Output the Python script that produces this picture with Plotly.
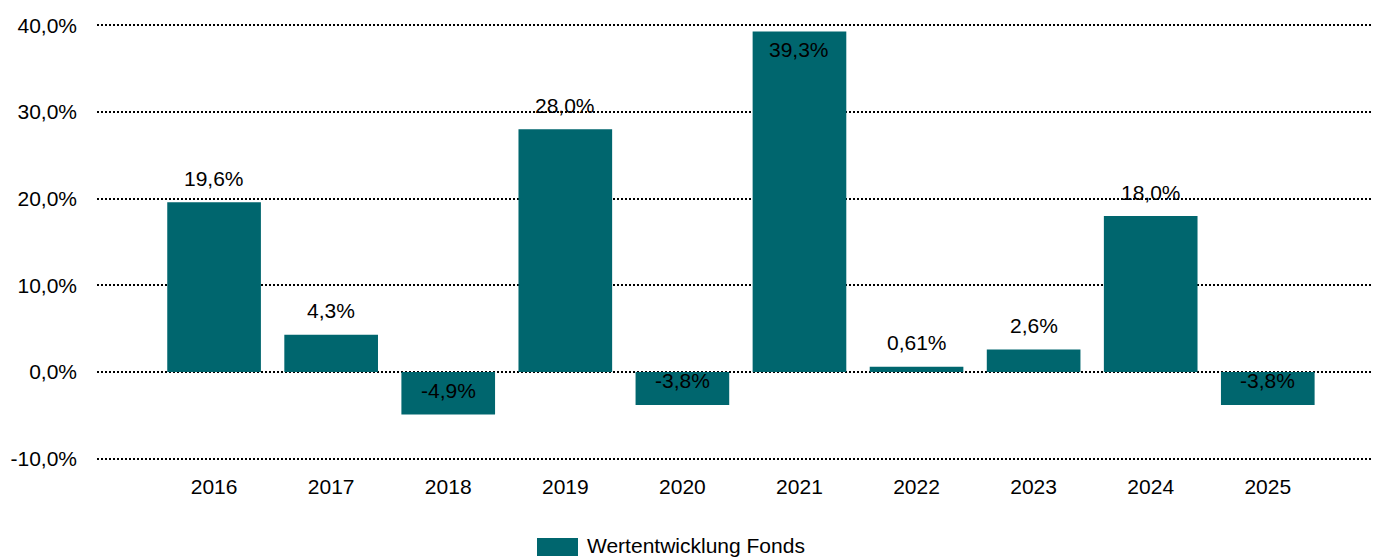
import plotly.graph_objects as go

years = ["2016", "2017", "2018", "2019", "2020", "2021", "2022", "2023", "2024", "2025"]
values = [19.6, 4.3, -4.9, 28.0, -3.8, 39.3, 0.61, 2.6, 18.0, -3.8]
labels = ["19,6%", "4,3%", "-4,9%", "28,0%", "-3,8%", "39,3%", "0,61%", "2,6%", "18,0%", "-3,8%"]
y_ticks = [-10, 0, 10, 20, 30, 40]
y_tick_text = ["-10,0%", "0,0%", "10,0%", "20,0%", "30,0%", "40,0%"]
series_name = "Wertentwicklung Fonds"

COLOR = "#00666E"
FONT = "Liberation Sans, Arial, sans-serif"
FS = 21

OFF = 8  # page body margin
W, H = 1379 - OFF, 557 - OFF
ML, MR, MT, MB = 97 - OFF, 0, 13, 94
plot_w = W - ML - MR
plot_h = H - MT - MB


def px_to_paper_x(px):
    return (px - OFF - ML) / plot_w


def px_to_paper_y(py):
    return (H - MB - (py - OFF)) / plot_h


x_idx = list(range(len(years)))

fig = go.Figure()
fig.add_trace(go.Bar(
    x=x_idx, y=values, width=0.8, marker=dict(color=COLOR, line=dict(width=0)),
    name=series_name, showlegend=False, hoverinfo="skip",
))

annotations = []
for i, (v, t) in enumerate(zip(values, labels)):
    shift = 24 if v < 36 else -18
    annotations.append(dict(x=i, y=v, xref="x", yref="y", text=t, showarrow=False,
                            yshift=shift, font=dict(family=FONT, size=FS, color="#000000")))

# custom legend
sw_x0, sw_x1 = px_to_paper_x(537), px_to_paper_x(578)
sw_y0, sw_y1 = px_to_paper_y(556), px_to_paper_y(538)
annotations.append(dict(x=px_to_paper_x(585), y=px_to_paper_y(545), xref="paper", yref="paper",
                        text=series_name, showarrow=False, xanchor="left", yanchor="middle",
                        font=dict(family=FONT, size=FS, color="#000000")))

fig.add_shape(type="rect", xref="paper", yref="paper", x0=sw_x0, x1=sw_x1, y0=sw_y0, y1=sw_y1,
              fillcolor=COLOR, line=dict(width=0))

fig.update_layout(
    width=W, height=H,
    margin=dict(l=ML, r=MR, t=MT, b=MB, pad=0, autoexpand=False),
    paper_bgcolor="white", plot_bgcolor="white",
    font=dict(family=FONT, size=FS, color="#000000"),
    annotations=annotations,
    showlegend=False,
)
fig.update_xaxes(
    tickmode="array", tickvals=x_idx, ticktext=years, range=[-1.0, 9.95],
    showgrid=False, zeroline=False, showline=False, ticks="", ticklabelstandoff=9,
    tickfont=dict(family=FONT, size=FS, color="#000000"),
)
fig.update_yaxes(
    tickmode="array", tickvals=y_ticks, ticktext=y_tick_text, range=[-10.5, 40.5],
    showgrid=True, gridcolor="#000000", gridwidth=2, griddash="2px,2px",
    zeroline=False, showline=False, ticks="", ticklabelstandoff=19,
    tickfont=dict(family=FONT, size=FS, color="#000000"),
)
fig.write_html("out.html")
